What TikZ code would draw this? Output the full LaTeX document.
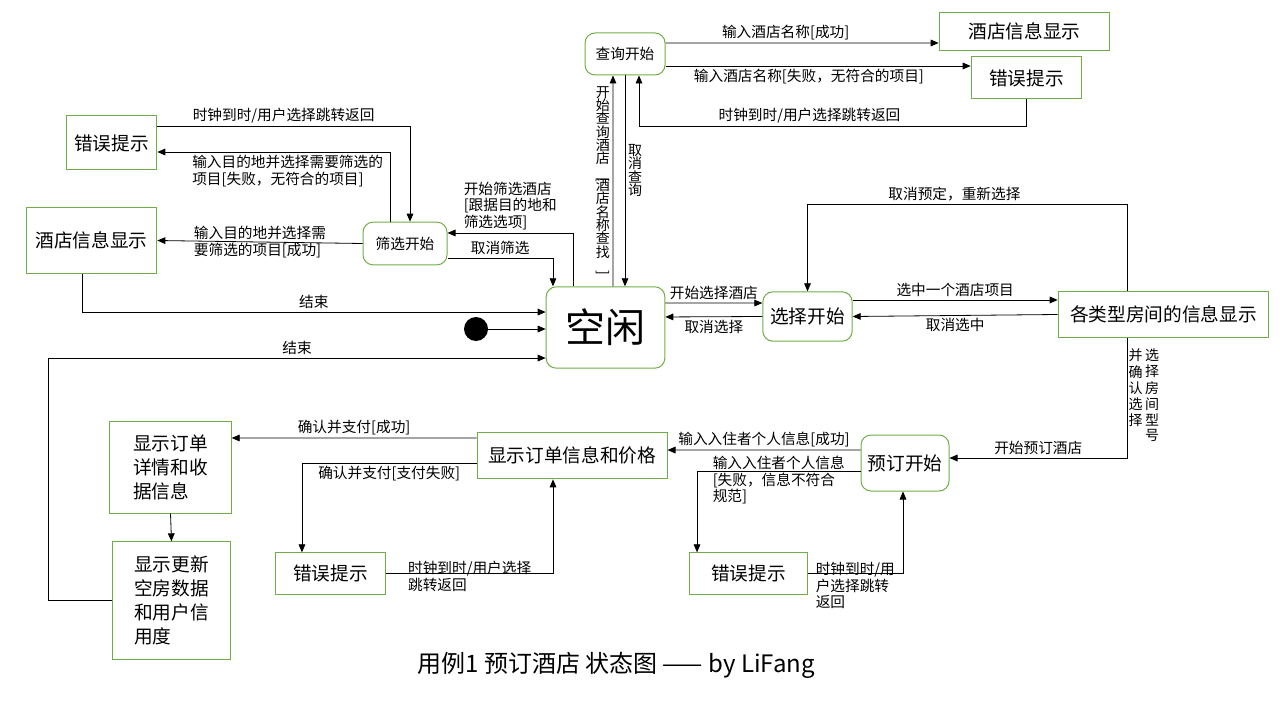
\documentclass[tikz,border=0pt]{standalone}
\usepackage{fontspec}
\setmainfont{Noto Sans CJK SC}
\usepackage{tikz}
\usetikzlibrary{positioning, arrows.meta}
\definecolor{boxgreen}{RGB}{112,173,71}
\newcommand{\vcol}[1]{\begin{tabular}[t]{@{}c@{}}#1\end{tabular}}

\begin{document}
\begin{tikzpicture}[x=0.75pt, y=-0.75pt, every node/.style={inner sep=0pt},
  plainbox/.style={draw=boxgreen, line width=0.75pt, align=center, font=\fontsize{14}{18}\selectfont},
  statebox/.style={plainbox, rounded corners=7.5pt},
  lbl/.style={font=\fontsize{11}{12.5}\selectfont, align=left, inner sep=2pt},
  vlbl/.style={lbl, align=center, font={\fontsize{10.5}{10}\selectfont\lineskiplimit=-20pt}},
  arrow/.style={-{Triangle[length=6pt, width=5pt]}, line width=0.6pt}]
  \useasboundingbox (0,0) rectangle (1280,720);

  \node[statebox, minimum width=60pt, minimum height=31.5pt, font=\fontsize{11}{13}\selectfont] (query) at (625,54) {查询开始};
  \node[plainbox, minimum width=128pt, minimum height=28pt] (hotelT) at (1024.5,31.5) {酒店信息显示};
  \node[plainbox, minimum width=83pt, minimum height=31.5pt] (errT) at (1026.5,78) {错误提示};
  \node[plainbox, minimum width=68pt, minimum height=40.5pt] (errL) at (111.5,143) {错误提示};
  \node[plainbox, minimum width=98pt, minimum height=49pt] (hotelL) at (91.5,240.5) {酒店信息显示};
  \node[statebox, minimum width=63pt, minimum height=32pt, font=\fontsize{11}{13}\selectfont] (filter) at (405,243.5) {筛选开始};
  \node[statebox, minimum width=89pt, minimum height=61pt, font=\fontsize{30}{36}\selectfont] (idle) at (605.5,327.5) {空闲};
  \node[circle, fill, minimum size=18pt] (init) at (476,329) {};
  \node[statebox, minimum width=67pt, minimum height=37pt] (select) at (807.5,316.5) {选择开始};
  \node[plainbox, minimum width=158pt, minimum height=34pt] (rooms) at (1163.5,314.5) {各类型房间的信息显示};
  \node[statebox, minimum width=66pt, minimum height=42pt] (book) at (905,463) {预订开始};
  \node[plainbox, minimum width=142.5pt, minimum height=35pt] (order) at (572,455.5) {显示订单信息和价格};
  \node[plainbox, minimum width=91pt, minimum height=69pt, align=left] (receipt) at (170.5,467) {显示订单\\详情和收\\据信息};
  \node[plainbox, minimum width=88pt, minimum height=88pt, align=left] (update) at (171.5,600.5) {显示更新\\空房数据\\和用户信\\用度};
  \node[plainbox, minimum width=83pt, minimum height=31pt] (errB1) at (330.5,573.5) {错误提示};
  \node[plainbox, minimum width=88pt, minimum height=31pt] (errB2) at (748.5,573.5) {错误提示};
  \node[font=\fontsize{18}{22}\selectfont] (title) at (616,665) {用例1 预订酒店 状态图 —— by LiFang};

  \draw[arrow] ([yshift=8.25pt]query.east) -- ([yshift=-8.6pt]hotelT.west) node[lbl, pos=0.44, above] {输入酒店名称[成功]};
  \draw[arrow] ([yshift=-9pt]query.east) -- ([yshift=9pt]errT.west) node[lbl, pos=0.47, below] {输入酒店名称[失败，无符合的项目]};
  \draw[arrow] (errT.south) -- ++(0,27) -| ([xshift=10.5pt]query.south) node[lbl, pos=0.28, above] {时钟到时/用户选择跳转返回};
  \draw[arrow] ([xshift=5.6pt]idle.north) -- ([xshift=-9pt]query.south) node[vlbl, midway, left]
    {开\\始\\查\\询\\酒\\店\\\rotatebox{-90}{[}\\酒\\店\\名\\称\\查\\找\\\rotatebox{-90}{]}};
  \draw[arrow] (query.south) -- (query.south |- idle.north) node[vlbl, pos=0.45, right] {取\\消\\查\\询};

  \draw[arrow] ([yshift=12.75pt]errL.east) -| ([xshift=3.75pt]filter.north) node[lbl, pos=0.25, above] {时钟到时/用户选择跳转返回};
  \draw[arrow] ([xshift=-11.25pt]filter.north) |- ([yshift=-6.75pt]errL.east) node[lbl, pos=0.72, below] {输入目的地并选择需要筛选的\\项目[失败，无符合的项目]};
  \draw[arrow] (filter.west) -- (hotelL.east) node[lbl, midway] {输入目的地并选择需\\要筛选的项目[成功]};
  \draw[arrow] ([xshift=-24.4pt]idle.north) |- ([yshift=7.9pt]filter.east) node[lbl, pos=0.75, above] {开始筛选酒店\\{}[跟据目的地和\\筛选选项]};
  \draw[arrow] ([yshift=-10.9pt]filter.east) -| ([xshift=-39.4pt]idle.north) node[lbl, pos=0.25, above] {取消筛选};
  \draw[arrow] ([xshift=-7.1pt]hotelL.south) |- ([yshift=11.6pt]idle.west) node[lbl, pos=0.75, above] {结束};
  \draw[arrow] (init) -- (idle.west |- init);
  \draw[arrow] (update.west) -- ++(-64,0) |- ([yshift=-22.9pt]idle.west) node[lbl, pos=0.75, above] {结束};

  \draw[arrow] ([yshift=18.4pt]idle.east) -- ([yshift=10.1pt]select.west) node[lbl, midway, above] {开始选择酒店};
  \draw[arrow] (select.west) -- ([yshift=7.9pt]idle.east) node[lbl, midway, below] {取消选择};
  \draw[arrow] ([yshift=12.4pt]select.east) -- ([yshift=10.9pt]rooms.west) node[lbl, midway, above] {选中一个酒店项目};
  \draw[arrow] (rooms.west) -- (select.east) node[lbl, midway, below] {取消选中};
  \draw[arrow] ([xshift=-27.4pt]rooms.north) -- ++(0,-87) -| (select.north) node[lbl, pos=0.27, above] {取消预定，重新选择};
  \draw[arrow] ([xshift=-27.4pt]rooms.south) |- ([yshift=3.75pt]book.east) node[lbl, pos=0.75, above] {开始预订酒店}
    node[lbl, pos=0.04, anchor=north west, inner sep=1pt, font=\fontsize{10.5}{11}\selectfont] {\vcol{并\\确\\认\\选\\择}\,\vcol{选\\择\\房\\间\\型\\号}};

  \draw[arrow] ([yshift=9.75pt]book.west) -- ([yshift=4.1pt]order.east) node[lbl, midway, above] {输入入住者个人信息[成功]};
  \draw[arrow] ([yshift=-6pt]book.west) -| ([xshift=-38.6pt]errB2.north) node[lbl, pos=0.25, yshift=-7pt] {输入入住者个人信息\\{}[失败，信息不符合\\规范]};
  \draw[arrow] (errB2.east) -| ([xshift=-1.5pt]book.south) node[lbl, pos=0.25, yshift=-9pt] {时钟到时/用\\户选择跳转\\返回};
  \draw[arrow] ([yshift=13.1pt]order.west) -- ([yshift=21.75pt]receipt.east) node[lbl, midway, above] {确认并支付[成功]};
  \draw[arrow] ([yshift=-5.6pt]order.west) -| ([xshift=-21.4pt]errB1.north) node[lbl, pos=0.25, below] {确认并支付[支付失败]};
  \draw[arrow] (errB1.east) -| ([xshift=-14.25pt]order.south) node[lbl, pos=0.25, yshift=-2pt] {时钟到时/用户选择\\跳转返回};
  \draw[arrow] (receipt.south) -- (update.north);
\end{tikzpicture}
\end{document}
